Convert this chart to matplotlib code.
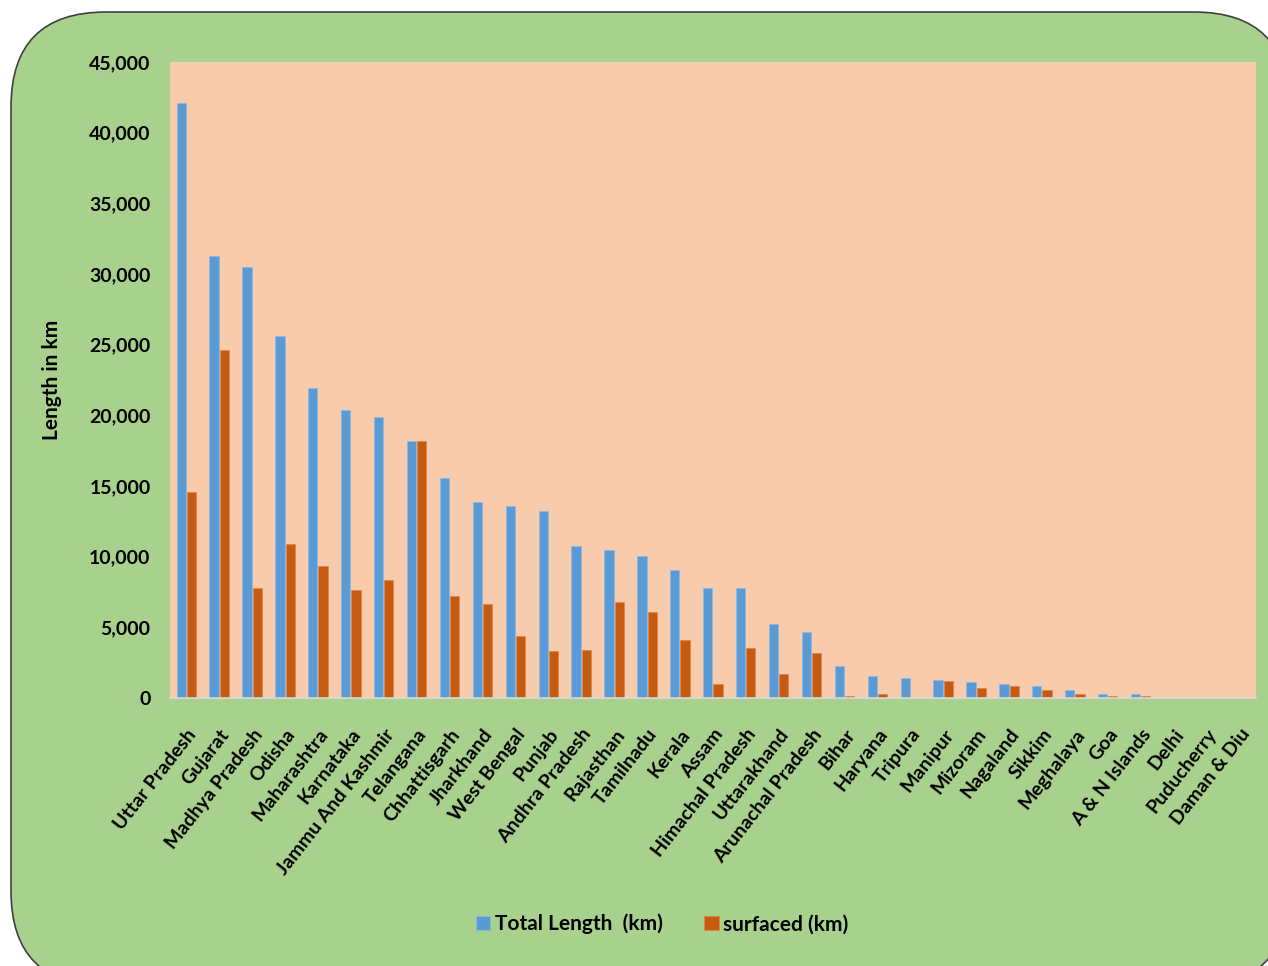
import matplotlib.pyplot as plt
import numpy as np
from matplotlib.patches import FancyBboxPatch
from matplotlib.ticker import FuncFormatter

states = ["Uttar Pradesh", "Gujarat", "Madhya Pradesh", "Odisha", "Maharashtra",
          "Karnataka", "Jammu And Kashmir", "Telangana", "Chhattisgarh", "Jharkhand",
          "West Bengal", "Punjab", "Andhra Pradesh", "Rajasthan", "Tamilnadu",
          "Kerala", "Assam", "Himachal Pradesh", "Uttarakhand", "Arunachal Pradesh",
          "Bihar", "Haryana", "Tripura", "Manipur", "Mizoram", "Nagaland", "Sikkim",
          "Meghalaya", "Goa", "A & N Islands", "Delhi", "Puducherry", "Daman & Diu"]

total_km = [42100, 31300, 30500, 25600, 21950, 20400, 19850, 18150, 15600, 13900,
            13600, 13200, 10750, 10500, 10080, 9080, 7800, 7800, 5270, 4700,
            2290, 1590, 1440, 1300, 1150, 1010, 870, 590, 300, 300, 0, 0, 0]

surfaced_km = [14600, 24650, 7800, 10900, 9350, 7650, 8380, 18150, 7250, 6680,
               4400, 3300, 3430, 6820, 6110, 4130, 1020, 3570, 1730, 3150,
               170, 310, 0, 1180, 730, 870, 590, 300, 160, 160, 0, 0, 0]

plt.rcParams['font.family'] = ['Lato', 'DejaVu Sans']

W, H = 1268, 966
fig = plt.figure(figsize=(W / 100, H / 100), dpi=100)
fig.patch.set_facecolor("white")

# rounded green frame behind everything
frame = FancyBboxPatch((11 / W, -20 / H), (W + 10) / W, (H - 12 + 20) / H,
                       boxstyle="round,pad=0,rounding_size=0.075",
                       transform=fig.transFigure, facecolor="#A9D18E",
                       edgecolor="#404040", linewidth=1.2, mutation_aspect=W / H,
                       zorder=-10)
fig.patches.append(frame)

ax = fig.add_axes([170 / W, 1 - 698 / H, (1256 - 170) / W, (698 - 62) / H])
ax.set_facecolor("#F8CBAD")

x = np.arange(len(states))
bw = 0.28
ax.bar(x - 0.16, total_km, width=bw, color="#5B9BD5", edgecolor="#8DB8E3",
       linewidth=0.6, label="Total Length  (km)")
ax.bar(x + 0.15, surfaced_km, width=bw, color="#C55A11", edgecolor="#E0854A",
       linewidth=0.6, label="surfaced (km)")

ax.set_xlim(-0.5, len(states) - 0.5)
ax.set_ylim(0, 45000)
ax.set_yticks(np.arange(0, 45001, 5000))
ax.yaxis.set_major_formatter(FuncFormatter(lambda v, p: f"{int(v):,}"))
for lbl in ax.get_yticklabels():
    lbl.set_fontweight("bold")
    lbl.set_fontsize(14)
ax.tick_params(axis="y", length=0, pad=14)
ax.tick_params(axis="x", length=0, pad=20)

ax.set_xticks(x)
ax.set_xticklabels(states, rotation=52, ha="right", rotation_mode="anchor",
                   fontsize=14, fontweight="bold")

for s in ["top", "right", "left"]:
    ax.spines[s].set_visible(False)
ax.spines["bottom"].set_color("#D9D9D9")
ax.spines["bottom"].set_linewidth(1.2)

fig.text(52 / W, 1 - 380 / H, "Length in km", rotation=90, ha="center",
         va="center", fontsize=15, fontweight="bold")

fig.legend(loc="center", bbox_to_anchor=(662 / W, 1 - 924 / H), ncol=2,
           frameon=False, handlelength=0.7, handleheight=0.7,
           handletextpad=0.2, columnspacing=2.0,
           prop={"weight": "bold", "size": 15})

plt.savefig("out.png", dpi=100)
plt.close()
